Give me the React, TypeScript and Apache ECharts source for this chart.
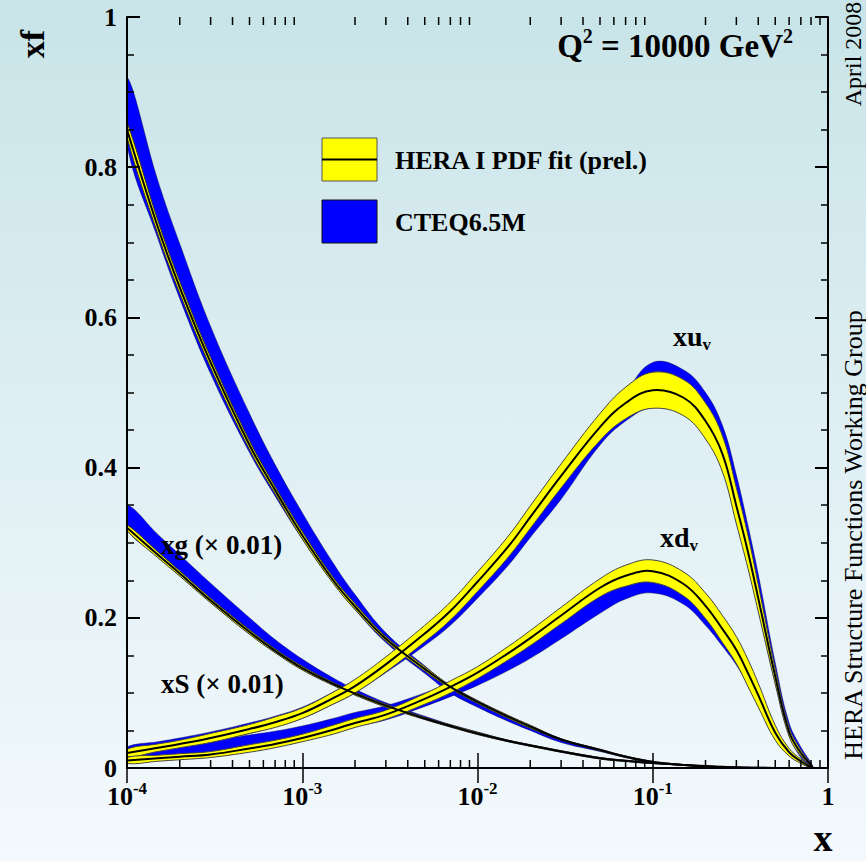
import React, { useEffect, useRef } from "react";
import * as echarts from "echarts";

// x grid (momentum fraction)
const xGrid = [1e-4, 1.5e-4, 2e-4, 3e-4, 5e-4, 7e-4, 1e-3, 1.5e-3, 2e-3, 3e-3, 5e-3, 7e-3, 1e-2, 1.5e-2, 2e-2, 3e-2, 5e-2, 7e-2, 0.1, 0.15, 0.2, 0.25, 0.3, 0.35, 0.4, 0.5, 0.6, 0.7, 0.8, 0.82];

// xg (x 0.01)
const xgHera = [0.85, 0.72, 0.64, 0.54, 0.43, 0.37, 0.31, 0.25, 0.215, 0.172, 0.132, 0.108, 0.088, 0.068, 0.055, 0.038, 0.024, 0.015, 0.008, 0.004, 0.002, 0.001, 0.0005, 0.0003, 0.0002, 0.0001, 0, 0, 0, 0];
const xgHeraErr = [0.01, 0.009, 0.008, 0.007, 0.006, 0.005, 0.005, 0.004, 0.004, 0.003, 0.003, 0.002, 0.002, 0.002, 0.002, 0.001, 0.001, 0.001, 0.001, 0.0005, 0.0003, 0.0002, 0.0001, 0, 0, 0, 0, 0, 0, 0];
const xgCteqLo = [0.83, 0.705, 0.625, 0.525, 0.42, 0.362, 0.305, 0.247, 0.211, 0.167, 0.126, 0.1, 0.081, 0.062, 0.05, 0.034, 0.022, 0.014, 0.0075, 0.0037, 0.0018, 0.0009, 0.0004, 0.0002, 0.0001, 0, 0, 0, 0, 0];
const xgCteqHi = [0.92, 0.782, 0.698, 0.588, 0.472, 0.404, 0.34, 0.273, 0.231, 0.18, 0.136, 0.109, 0.089, 0.069, 0.056, 0.039, 0.025, 0.016, 0.0085, 0.0043, 0.0022, 0.0011, 0.0006, 0.0004, 0.0003, 0.0002, 0.0001, 0, 0, 0];

// xS (x 0.01)
const xsHera = [0.32, 0.284, 0.259, 0.223, 0.181, 0.156, 0.133, 0.112, 0.099, 0.083, 0.066, 0.056, 0.046, 0.036, 0.03, 0.022, 0.013, 0.0095, 0.0065, 0.004, 0.0025, 0.0015, 0.001, 0.0006, 0.0003, 0.0001, 0, 0, 0, 0];
const xsHeraErr = [0.004, 0.004, 0.0035, 0.003, 0.003, 0.0025, 0.0025, 0.002, 0.002, 0.002, 0.0015, 0.0015, 0.0015, 0.001, 0.001, 0.001, 0.001, 0.0008, 0.0006, 0.0004, 0.0003, 0.0002, 0.0001, 0, 0, 0, 0, 0, 0, 0];
const xsCteqLo = [0.318, 0.282, 0.257, 0.221, 0.18, 0.155, 0.132, 0.111, 0.098, 0.082, 0.065, 0.055, 0.045, 0.035, 0.029, 0.021, 0.012, 0.009, 0.006, 0.0037, 0.0023, 0.0014, 0.0009, 0.0005, 0.0002, 0, 0, 0, 0, 0];
const xsCteqHi = [0.35, 0.311, 0.284, 0.246, 0.2, 0.171, 0.145, 0.12, 0.105, 0.087, 0.069, 0.058, 0.048, 0.037, 0.031, 0.023, 0.014, 0.01, 0.007, 0.0043, 0.0027, 0.0016, 0.0011, 0.0007, 0.0004, 0.0002, 0, 0, 0, 0];

// xu_v
const xuHera = [0.02, 0.027, 0.032, 0.04, 0.052, 0.061, 0.073, 0.093, 0.109, 0.138, 0.179, 0.209, 0.248, 0.295, 0.334, 0.389, 0.454, 0.486, 0.503, 0.493, 0.462, 0.418, 0.349, 0.287, 0.226, 0.122, 0.048, 0.02, 0.004, 0];
const xuHeraErr = [0.005, 0.005, 0.005, 0.006, 0.006, 0.007, 0.007, 0.008, 0.009, 0.01, 0.011, 0.012, 0.013, 0.014, 0.015, 0.016, 0.018, 0.021, 0.024, 0.024, 0.024, 0.024, 0.024, 0.022, 0.018, 0.01, 0.006, 0.004, 0.001, 0];
const xuCteqLo = [0.016, 0.022, 0.027, 0.035, 0.046, 0.055, 0.066, 0.085, 0.1, 0.127, 0.163, 0.19, 0.226, 0.27, 0.307, 0.358, 0.43, 0.462, 0.48, 0.47, 0.44, 0.398, 0.333, 0.272, 0.213, 0.112, 0.043, 0.014, 0.001, 0];
const xuCteqHi = [0.028, 0.035, 0.04, 0.048, 0.06, 0.069, 0.081, 0.101, 0.117, 0.146, 0.187, 0.217, 0.255, 0.3, 0.338, 0.39, 0.455, 0.5, 0.54, 0.53, 0.5, 0.456, 0.39, 0.322, 0.258, 0.14, 0.06, 0.028, 0.007, 0.001];

// xd_v
const xdHera = [0.01, 0.013, 0.015, 0.018, 0.026, 0.032, 0.04, 0.051, 0.06, 0.071, 0.092, 0.108, 0.127, 0.153, 0.173, 0.203, 0.24, 0.256, 0.262, 0.245, 0.216, 0.185, 0.157, 0.126, 0.097, 0.047, 0.021, 0.009, 0.001, 0];
const xdHeraErr = [0.004, 0.004, 0.004, 0.004, 0.005, 0.005, 0.005, 0.006, 0.006, 0.006, 0.007, 0.008, 0.008, 0.009, 0.01, 0.011, 0.012, 0.014, 0.015, 0.016, 0.017, 0.018, 0.018, 0.018, 0.016, 0.01, 0.005, 0.003, 0.001, 0];
const xdCteqLo = [0.008, 0.011, 0.013, 0.016, 0.023, 0.029, 0.036, 0.047, 0.055, 0.064, 0.082, 0.095, 0.11, 0.13, 0.146, 0.172, 0.206, 0.225, 0.233, 0.218, 0.19, 0.162, 0.137, 0.11, 0.085, 0.04, 0.017, 0.007, 0.001, 0];
const xdCteqHi = [0.021, 0.027, 0.031, 0.036, 0.044, 0.049, 0.056, 0.066, 0.074, 0.083, 0.1, 0.113, 0.13, 0.152, 0.168, 0.195, 0.235, 0.255, 0.262, 0.248, 0.222, 0.19, 0.16, 0.128, 0.098, 0.048, 0.022, 0.01, 0.002, 0];

// axis ticks
const xMinorTicks = [2e-4, 3e-4, 4e-4, 5e-4, 6e-4, 7e-4, 8e-4, 9e-4, 2e-3, 3e-3, 4e-3, 5e-3, 6e-3, 7e-3, 8e-3, 9e-3, 2e-2, 3e-2, 4e-2, 5e-2, 6e-2, 7e-2, 8e-2, 9e-2, 0.2, 0.3, 0.4, 0.5, 0.6, 0.7, 0.8, 0.9];

const FONT = '"Liberation Serif", "Times New Roman", serif';
const YELLOW = "#ffff00";
const BLUE = "#0000ff";
const SMOOTH = 0.4;

function bandSeries(lo: number[], hi: number[], fill: string, stroke: string, lw: number, z: number) {
  return {
    type: "custom",
    z,
    silent: true,
    clip: true,
    data: [[xGrid[0], lo[0]]],
    renderItem: (_p: any, api: any) => {
      const pts: number[][] = [];
      for (let i = 0; i < xGrid.length; i++) pts.push(api.coord([xGrid[i], hi[i]]));
      for (let i = xGrid.length - 1; i >= 0; i--) pts.push(api.coord([xGrid[i], lo[i]]));
      return {
        type: "polygon",
        shape: { points: pts, smooth: SMOOTH },
        style: { fill, stroke, lineWidth: lw },
      };
    },
  };
}

function lineSeries(vals: number[], z: number) {
  return {
    type: "custom",
    z,
    silent: true,
    clip: true,
    data: [[xGrid[0], vals[0]]],
    renderItem: (_p: any, api: any) => {
      const pts: number[][] = xGrid.map((x, i) => api.coord([x, vals[i]]));
      return {
        type: "polyline",
        shape: { points: pts, smooth: SMOOTH },
        style: { stroke: "#000", lineWidth: 2, fill: null },
      };
    },
  };
}

const lo = (c: number[], e: number[]) => c.map((v, i) => v - e[i]);
const hi = (c: number[], e: number[]) => c.map((v, i) => v + e[i]);

export default function App() {
  const ref = useRef<HTMLDivElement>(null);
  useEffect(() => {
    if (!ref.current) return;
    const chart = echarts.init(ref.current, undefined, { renderer: "svg" });

    const xLabel = {
      show: true,
      margin: 12,
      color: "#000",
      formatter: (v: number) => {
        const e = Math.round(Math.log10(v));
        return e === 0 ? "{b|1}" : `{b|10}{s|${e}}`;
      },
      rich: {
        b: { fontSize: 26, fontWeight: "bold", fontFamily: FONT, color: "#000", lineHeight: 32 },
        s: { fontSize: 17, fontWeight: "bold", fontFamily: FONT, color: "#000", lineHeight: 17, verticalAlign: "top" },
      },
    };
    const axLine = { show: true, lineStyle: { color: "#000", width: 2 } };

    const ts = (size: number, bold = true) => ({
      fontSize: size,
      fontWeight: bold ? "bold" : "normal",
      fontFamily: FONT,
      fill: "#000",
    });
    const mid = { verticalAlign: "middle", textVerticalAlign: "middle" };
    const C = { align: "center", textAlign: "center", ...mid };
    const L = { align: "left", textAlign: "left", ...mid };

    const option: any = {
      animation: false,
      backgroundColor: "transparent",
      grid: { left: 127, right: 38, top: 17, bottom: 93 },
      xAxis: [
        {
          type: "log", logBase: 10, min: 1e-4, max: 1, position: "bottom", z: 10,
          axisLine: axLine,
          axisTick: { show: true, inside: true, length: 15, lineStyle: { color: "#000", width: 1.5 } },
          axisLabel: xLabel,
          splitLine: { show: false },
        },
        {
          type: "log", logBase: 10, min: 1e-4, max: 1, position: "top", z: 10,
          axisLine: axLine,
          axisTick: { show: true, inside: true, length: 15, lineStyle: { color: "#000", width: 1.5 } },
          axisLabel: { show: false },
          splitLine: { show: false },
        },
      ],
      yAxis: [
        {
          type: "value", min: 0, max: 1, interval: 0.2, position: "left", z: 10,
          axisLine: axLine,
          axisTick: { show: true, inside: true, length: 13, lineStyle: { color: "#000", width: 2 } },
          minorTick: { show: true, splitNumber: 4, length: 7, lineStyle: { color: "#000", width: 1.5 } },
          axisLabel: { margin: 10, color: "#000", fontSize: 26, fontWeight: "bold", fontFamily: FONT },
          splitLine: { show: false },
          minorSplitLine: { show: false },
        },
        {
          type: "value", min: 0, max: 1, interval: 0.2, position: "right", z: 10,
          axisLine: axLine,
          axisTick: { show: true, inside: true, length: 13, lineStyle: { color: "#000", width: 2 } },
          minorTick: { show: true, splitNumber: 4, length: 7, lineStyle: { color: "#000", width: 1.5 } },
          axisLabel: { show: false },
          splitLine: { show: false },
          minorSplitLine: { show: false },
        },
      ],
      series: [
        bandSeries(xgCteqLo, xgCteqHi, BLUE, "rgba(0,0,60,0.55)", 0.8, 2),
        bandSeries(xsCteqLo, xsCteqHi, BLUE, "rgba(0,0,60,0.55)", 0.8, 2),
        bandSeries(xuCteqLo, xuCteqHi, BLUE, "rgba(0,0,60,0.55)", 0.8, 2),
        bandSeries(xdCteqLo, xdCteqHi, BLUE, "rgba(0,0,60,0.55)", 0.8, 2),
        bandSeries(lo(xgHera, xgHeraErr), hi(xgHera, xgHeraErr), YELLOW, "#333", 1, 3),
        bandSeries(lo(xsHera, xsHeraErr), hi(xsHera, xsHeraErr), YELLOW, "#333", 1, 3),
        bandSeries(lo(xuHera, xuHeraErr), hi(xuHera, xuHeraErr), YELLOW, "#444", 1, 3),
        bandSeries(lo(xdHera, xdHeraErr), hi(xdHera, xdHeraErr), YELLOW, "#444", 1, 3),
        lineSeries(xgHera, 4),
        lineSeries(xsHera, 4),
        lineSeries(xuHera, 4),
        lineSeries(xdHera, 4),
        {
          type: "custom",
          z: 11,
          silent: true,
          clip: false,
          data: xMinorTicks.map((v) => [v, 0]),
          renderItem: (_p: any, api: any) => {
            const v = api.value(0);
            const b = api.coord([v, 0]);
            const t = api.coord([v, 1]);
            const st = { stroke: "#000", lineWidth: 1.5 };
            return {
              type: "group",
              children: [
                { type: "line", shape: { x1: b[0], y1: b[1], x2: b[0], y2: b[1] - 8 }, style: st },
                { type: "line", shape: { x1: t[0], y1: t[1], x2: t[0], y2: t[1] + 8 }, style: st },
              ],
            };
          },
        },
      ],
      graphic: [
        { type: "text", z: 20, x: 32, y: 44, rotation: Math.PI / 2, style: { text: "xf", ...ts(34), ...C } },
        { type: "text", z: 20, x: 823, y: 838, style: { text: "x", ...ts(38), ...C } },
        {
          type: "text", z: 20, x: 793, y: 46,
          style: {
            text: "Q{s|2} = 10000 GeV{s|2}", ...ts(33), lineHeight: 40,
            align: "right", textAlign: "right", ...mid,
            rich: { s: { fontSize: 20, fontWeight: "bold", fontFamily: FONT, fill: "#000", lineHeight: 20, verticalAlign: "top" } },
          },
        },
        { type: "rect", z: 20, shape: { x: 322, y: 138, width: 55, height: 43 }, style: { fill: YELLOW, stroke: "#555", lineWidth: 1 } },
        { type: "line", z: 21, shape: { x1: 322, y1: 159.5, x2: 377, y2: 159.5 }, style: { stroke: "#000", lineWidth: 2 } },
        { type: "rect", z: 20, shape: { x: 322, y: 200, width: 55, height: 43 }, style: { fill: BLUE, stroke: "#111", lineWidth: 1 } },
        { type: "text", z: 20, x: 395, y: 160, style: { text: "HERA I PDF fit (prel.)", ...ts(26), ...L } },
        { type: "text", z: 20, x: 395, y: 222, style: { text: "CTEQ6.5M", ...ts(26), ...L } },
        {
          type: "text", z: 20, x: 673, y: 336,
          style: {
            text: "xu{v|v}", ...ts(28), lineHeight: 34, ...L,
            rich: { v: { fontSize: 17, fontWeight: "bold", fontFamily: FONT, fill: "#000", lineHeight: 17, verticalAlign: "bottom" } },
          },
        },
        {
          type: "text", z: 20, x: 660, y: 537,
          style: {
            text: "xd{v|v}", ...ts(28), lineHeight: 34, ...L,
            rich: { v: { fontSize: 17, fontWeight: "bold", fontFamily: FONT, fill: "#000", lineHeight: 17, verticalAlign: "bottom" } },
          },
        },
        { type: "text", z: 20, x: 161, y: 545, style: { text: "xg (\u00d7 0.01)", ...ts(27), ...L } },
        { type: "text", z: 20, x: 161, y: 684, style: { text: "xS (\u00d7 0.01)", ...ts(27), ...L } },
        { type: "text", z: 20, x: 853, y: 54, rotation: Math.PI / 2, style: { text: "April 2008", ...ts(24, false), ...C } },
        { type: "text", z: 20, x: 853, y: 535, rotation: Math.PI / 2, style: { text: "HERA Structure Functions Working Group", ...ts(26, false), ...C } },
      ],
    };
    chart.setOption(option);
    return () => chart.dispose();
  }, []);

  return (
    <div
      ref={ref}
      style={{
        position: "fixed",
        left: 0,
        top: 0,
        width: 866,
        height: 861,
        background: "linear-gradient(to bottom, #c8e4e8 0%, #dfeff3 50%, #f3f9fd 100%)",
      }}
    />
  );
}
